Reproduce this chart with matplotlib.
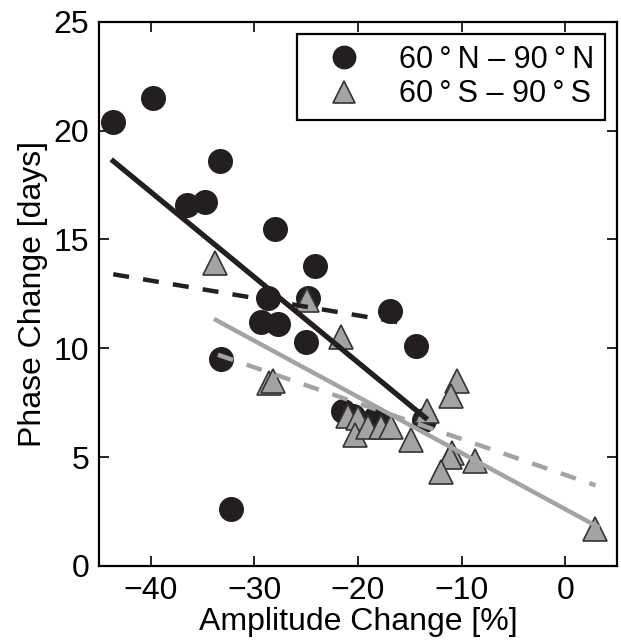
import matplotlib
matplotlib.use("Agg")
import matplotlib.pyplot as plt
import numpy as np

plt.rcParams["font.family"] = ["Liberation Sans", "DejaVu Sans"]

# 60N-90N points (amplitude change %, phase change days)
north_amp = [-43.6, -39.8, -33.3, -36.5, -34.8, -28.0, -24.1, -28.7, -24.8,
             -16.9, -29.4, -27.7, -25.0, -14.4, -33.2, -32.2,
             -21.4, -20.5, -18.4, -17.8, -13.6]
north_phase = [20.4, 21.5, 18.6, 16.6, 16.7, 15.5, 13.8, 12.3, 12.3,
               11.7, 11.2, 11.1, 10.3, 10.1, 9.5, 2.6,
               7.1, 6.9, 6.8, 6.6, 6.7]

# 60S-90S points
south_amp = [-33.8, -24.9, -21.6, -28.6, -28.2, -10.5, -11.0, -13.3,
             -21.0, -20.0, -20.3, -19.0, -17.8, -16.8, -14.9,
             -10.9, -11.1, -12.0, -8.75, 2.9]
south_phase = [13.9, 12.2, 10.5, 8.4, 8.5, 8.5, 7.8, 7.1,
               6.9, 6.8, 6.0, 6.4, 6.4, 6.4, 5.8,
               5.2, 5.0, 4.3, 4.8, 1.7]

# regression line end points
north_fit_x = [-43.6, -13.5]
north_fit_y = [18.6, 6.8]
north_dash_x = [-43.6, -14.9]
north_dash_y = [13.4, 11.1]
south_fit_x = [-33.7, 3.1]
south_fit_y = [11.3, 1.8]
south_dash_x = [-33.5, 2.9]
south_dash_y = [9.7, 3.7]

fig = plt.figure(figsize=(6.21, 6.43), dpi=100)
ax = fig.add_axes([0.159, 0.12, 0.835, 0.846])

gray = "#a3a3a3"
ax.plot(north_amp, north_phase, "o", color="#231f20", ms=17, mec="#231f20",
        label="60\u2009°\u2009N \u2013 90\u2009°\u2009N", zorder=3)
ax.plot(south_amp, south_phase, "^", color=gray, ms=17, mec="#333333", mew=1.2,
        label="60\u2009°\u2009S \u2013 90\u2009°\u2009S", zorder=4)

ax.plot(north_fit_x, north_fit_y, "-", color="#231f20", lw=3.8, zorder=5)
ax.plot(north_dash_x, north_dash_y, "--", color="#231f20", lw=3.2, dashes=(3.6, 3.2), zorder=5)
ax.plot(south_fit_x, south_fit_y, "-", color=gray, lw=3.2, zorder=5)
ax.plot(south_dash_x, south_dash_y, "--", color=gray, lw=3.2, dashes=(3.6, 3.2), zorder=5)

ax.set_xlim(-45, 5)
ax.set_ylim(0, 25)
ax.set_xticks([-40, -30, -20, -10, 0])
ax.set_yticks([0, 5, 10, 15, 20, 25])
ax.set_xticklabels(["\u221240", "\u221230", "\u221220", "\u221210", "0"])
ax.tick_params(direction="in", top=True, right=True, labelsize=23, length=7, width=1.2, pad=7)
for s in ax.spines.values():
    s.set_linewidth(1.6)

ax.set_xlabel("Amplitude Change [%]", fontsize=23, labelpad=1)
ax.set_ylabel("Phase Change [days]", fontsize=23, labelpad=4)

leg = ax.legend(loc="upper right", fontsize=22, frameon=True, fancybox=False,
                edgecolor="black", borderaxespad=0.4, handletextpad=0.6,
                handlelength=2.4, borderpad=0.35, labelspacing=0.15,
                numpoints=1, markerscale=0.95)
leg.get_frame().set_linewidth(1.6)
leg.get_frame().set_alpha(1)

fig.savefig("out.png", dpi=100)
